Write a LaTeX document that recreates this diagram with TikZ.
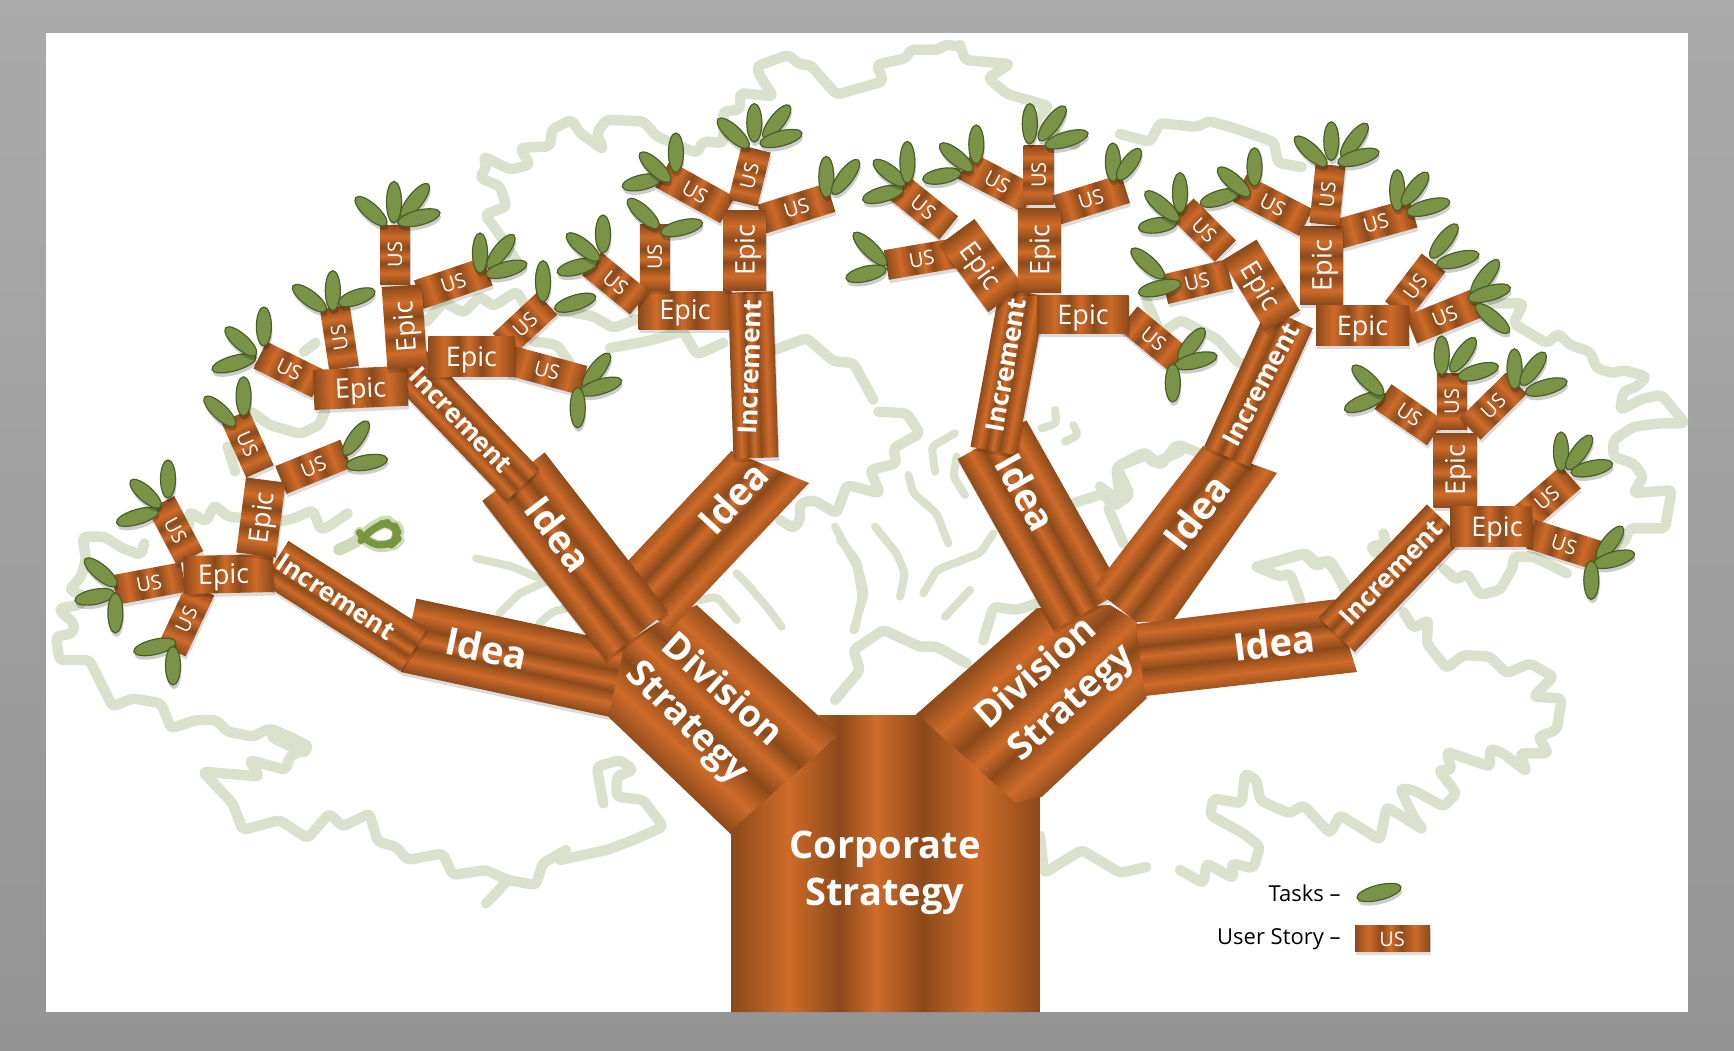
\documentclass[tikz,border=0pt]{standalone}
\usepackage{fontspec}
\setmainfont{Open Sans}
\definecolor{barkd}{HTML}{8B4A1B}
\definecolor{barkl}{HTML}{CF6B29}
\definecolor{outl}{HTML}{DAE2CD}
\definecolor{leaff}{HTML}{7A9347}
\definecolor{leafd}{HTML}{4A5F28}
\definecolor{knot}{HTML}{76963F}
\pgfdeclarehorizontalshading{barkwave}{100bp}{color(0bp)=(barkd);color(25bp)=(barkd);color(34.25bp)=(barkl);color(42.5bp)=(barkd);color(48.5bp)=(barkl);color(56bp)=(barkd);color(65bp)=(barkl);color(75bp)=(barkd);color(100bp)=(barkd)}
\newcount\nodeno
\newcommand\stick[6]{% x1 y1 x2 y2 width shading-angle
  \pgfmathsetmacro\ang{atan2(#2-#4,#3-#1)}%
  \pgfmathsetmacro\len{veclen(#3-#1,#4-#2)}%
  \pgfmathsetmacro\hw{#5/2}%
  \fill[black,opacity=.14,transform canvas={shift={(#1+1,#2+3.5)},rotate=\ang}] (0,-\hw) rectangle (\len,\hw);
  \path[transform canvas={shift={(#1,#2)},rotate=\ang},shading=barkwave,shading angle=#6] (0,-\hw) rectangle (\len,\hw);
}
\newcommand\cutbar[7]{% polygon, then start, end, width, angle
  \begin{scope}\clip #1;
  \pgfmathsetmacro\ang{atan2(#3-#5,#4-#2)}%
  \pgfmathsetmacro\len{veclen(#4-#2,#5-#3)}%
  \pgfmathsetmacro\hw{#6/2}%
  \path[transform canvas={shift={(#2,#3)},rotate=\ang},shading=barkwave,shading angle=#7] (0,-\hw) rectangle (\len,\hw);
  \end{scope}
}
\newcommand\lab[5]{\global\advance\nodeno by 1
  \node[#1,rotate=#4] (lab\the\nodeno) at (#2,#3) {#5};}
\newcommand\tagged[6]{% style text x1 y1 x2 y2 (label at midpoint of a stick)
  \pgfmathsetmacro\ang{atan2(#4-#6,#5-#3)}%
  \pgfmathsetmacro\tang{\ang>105?\ang-180:(\ang<-105?\ang+180:\ang)}%
  \pgfmathsetmacro\mx{(#3+#5)/2}\pgfmathsetmacro\my{(#4+#6)/2}%
  \lab{#1}{\mx}{\my}{\tang}{#2}}
\newcommand\us[4]{\stick{#1}{#2}{#3}{#4}{30}{0}\tagged{ustext}{US}{#1}{#2}{#3}{#4}}
\newcommand\epic[4]{\stick{#1}{#2}{#3}{#4}{40}{0}\tagged{epictext}{Epic}{#1}{#2}{#3}{#4}}
\newcommand\leaf[4]{%
  \pgfmathsetmacro\ang{atan2(#2-#4,#3-#1)}%
  \pgfmathsetmacro\lr{veclen(#3-#1,#4-#2)/2}%
  \pgfmathsetmacro\mx{(#1+#3)/2}\pgfmathsetmacro\my{(#2+#4)/2}%
  \fill[black,opacity=.2,shift={(\mx+1,\my+4)},rotate=\ang] (0,0) ellipse [x radius=\lr,y radius=7.5];
  \path[leafshape,shift={(\mx,\my)},rotate=\ang] (0,0) ellipse [x radius=\lr,y radius=7.5];
}
\tikzset{
  leafshape/.style={draw=leafd,fill=leaff,line width=.6pt},
  band/.style={draw=outl,line width=5.2pt,line join=round,line cap=round,rounded corners=2pt},
  thin band/.style={band,line width=4pt},
  ustext/.style={text=white,font=\fontsize{10}{12}\selectfont,inner sep=0pt},
  epictext/.style={text=white,font=\fontsize{13.5}{16}\selectfont,inner sep=0pt,text depth=0pt},
  incrtext/.style={text=white,font=\bfseries\fontsize{13}{15}\selectfont,inner sep=0pt},
  ideatext/.style={text=white,font=\bfseries\fontsize{19}{23}\selectfont,inner sep=0pt},
  divtext/.style={text=white,font=\bfseries\fontsize{18.5}{22}\selectfont,inner sep=0pt},
  corptext/.style={text=white,font=\bfseries\fontsize{19}{22}\selectfont,inner sep=0pt,text depth=0pt},
  legendtext/.style={text=black,font=\fontsize{11}{13}\selectfont,inner sep=0pt,anchor=east,text depth=0pt},
}
\begin{document}
\begin{tikzpicture}[x=0.5pt,y=-0.5pt]
\useasboundingbox (0,0) rectangle (1734,1050);
\path[top color=black!33,bottom color=black!42] (0,0) rectangle (1734,1050);
\fill[white] (46,33) rectangle (1688,1012);
% ---------- background tree outline
\begin{scope}[shift={(46,480)},x=0.16667pt,y=-0.16667pt]
\draw[band] (905,100)--(855,135)--(825,150)--(800,90)--(745,115)--(700,125)--(600,115)--(545,110)--(505,75)--(480,125)--(430,95)--(430,140)--(395,165);
\draw[band] (295,190)--(285,225)--(230,205)--(175,170)--(110,170)--(120,240)--(105,290)--(70,330)--(120,350)--(100,375)--(40,385)--(50,400)--(85,430)--(80,460)--(30,470)--(40,540)--(130,540)--(200,680)--(260,655)--(345,670)--(375,745)--(450,720)--(510,720)--(545,755)--(620,770)--(670,745)--(730,770)--(790,800)--(730,830)--(720,870)--(610,840)--(640,890)--(590,885)--(470,875)--(560,970)--(590,1050)--(700,1020)--(785,1075)--(850,1000)--(890,1040)--(970,1000)--(995,1085)--(1050,1100)--(1085,1140)--(1190,1120)--(1220,1185)--(1320,1170)--(1385,1200)--(1470,1215)--(1490,1150)--(1560,1110);
\draw[band,line width=9pt] (690,765)--(770,805);
\draw[band] (1385,1200)--(1350,1240)--(1320,1270);
\draw[thin band] (1290,235)--(1400,260)--(1490,300);
\draw[thin band] (1360,400)--(1420,340)--(1500,305);
\draw[thin band] (1480,430)--(1520,395)--(1560,385);
% green curl
\draw[knot,opacity=.35,line width=6pt,line join=round,line cap=round,rounded corners=6pt] (880,208)--(935,185)--(990,130)--(1040,122)--(1068,170)--(1030,205)--(960,190)--(945,165);
\draw[knot,line width=3.6pt,line join=round,line cap=round,rounded corners=6pt] (945,182)--(990,135)--(1040,125)--(1062,170)--(1030,200)--(960,188)--(945,165);
\end{scope}
\begin{scope}[shift={(560,540)},x=0.16667pt,y=-0.16667pt]
\draw[band] (0,960)--(140,930)--(220,900)--(310,860)--(250,780)--(170,770)--(170,710)--(220,690)--(180,660)--(110,680)--(130,790);
\draw[thin band] (530,100)--(560,130)--(620,200)--(665,260);
\draw[thin band] (840,0)--(890,60)--(915,160)--(880,270);
\draw[thin band] (420,180)--(470,170)--(530,240);
\end{scope}
\begin{scope}[shift={(440,33)},x=0.16667pt,y=-0.16667pt]
\draw[band] (240,700)--(175,600)--(135,545)--(200,520)--(180,460)--(120,435)--(140,400)--(130,370)--(210,410)--(270,395)--(240,345)--(330,340)--(335,290)--(395,260)--(420,300)--(490,350)--(470,300)--(500,260)--(610,265)--(650,310)--(720,340)--(770,360)--(790,325)--(850,330)--(850,235)--(900,230)--(900,180)--(1000,190)--(960,130)--(950,100)--(1045,65)--(1080,95)--(1110,95)--(1190,185)--(1330,145)--(1310,95)--(1400,75)--(1410,50)--(1500,50)--(1510,35)--(1560,40);
\draw[band] (0,800)--(70,840)--(120,790)--(160,820)--(230,775)--(270,840)--(380,835)--(460,850)--(520,885)--(600,855);
\draw[band] (280,925)--(350,935)--(390,990);
\draw[band] (510,945)--(620,925)--(730,895)--(770,965)--(850,930);
\draw[band] (1005,950)--(1100,915)--(1180,985)--(1240,990)--(1300,1100);
\end{scope}
\begin{scope}[shift={(40,150)},x=0.19135pt,y=-0.17857pt]
\draw[band] (555,735)--(600,770)--(680,795)--(730,770)--(745,730);
\draw[band] (720,540)--(690,565);
\draw[band] (490,830)--(510,900);
\draw[band] (1060,420)--(1010,480);
\end{scope}
\begin{scope}[shift={(0,0)}]
\draw[band] (960,45)--(965,60)--(1010,64)--(988,78)--(1007,94)--(1049,106)--(1034,122)--(1075,145);
\draw[band] (1120,134)--(1150,142)--(1160,123)--(1197,127)--(1209,121)--(1237,129)--(1274,142)--(1278,163)--(1302,167);
\draw[band] (1146,867)--(1120,873)--(1082,850)--(1044,873)--(1040,836);
\end{scope}
\begin{scope}[shift={(780,380)},x=0.16667pt,y=-0.16667pt]
\draw[band] (295,95)--(380,100)--(420,160)--(340,205)--(350,250)--(270,270)--(300,340)--(200,315)--(170,400)--(100,360)--(60,370)--(60,420)--(40,445)--(0,420);
\draw[thin band] (165,440)--(230,560)--(245,650)--(225,750);
\draw[thin band] (285,440)--(350,520)--(375,580)--(360,650);
\draw[thin band] (385,285)--(400,340)--(470,400)--(505,490);
\draw[thin band] (430,640)--(470,570)--(600,520)--(640,460);
\draw[thin band] (495,710)--(570,630);
\draw[thin band] (530,230)--(520,290)--(555,345);
\draw[thin band] (525,160)--(455,200)--(465,275);
\draw[thin band] (825,90)--(830,130)--(785,145);
\draw[thin band] (880,135)--(895,165)--(855,185);
\draw[band] (880,370)--(970,340)--(1000,380)--(1050,345)--(1010,260)--(1100,225)--(1120,250)--(1200,215);
\draw[band] (985,385)--(1030,490);
\draw[band] (165,960)--(240,870)--(220,810)--(310,750)--(420,800)--(470,800)--(560,850);
\draw[band] (610,780)--(640,680)--(710,690)--(770,670);
\end{scope}
\begin{scope}[shift={(1100,100)},x=0.20218pt,y=-0.19135pt]
\draw[band] (0,1010)--(50,1050)--(40,960)--(110,920)--(150,955)--(190,900)--(240,920);
\draw[band] (115,525)--(150,610)--(200,575)--(290,625)--(345,690)--(390,680);
\end{scope}
\begin{scope}[shift={(1200,280)},x=0.16667pt,y=-0.16667pt]
\draw[band] (880,70)--(970,70)--(940,130)--(1040,190)--(1075,160)--(1110,195)--(1170,215)--(1190,265)--(1240,280)--(1270,270)--(1340,290)--(1310,320)--(1270,335)--(1260,390)--(1330,355)--(1385,345)--(1455,430)--(1380,430)--(1300,440)--(1240,480)--(1240,530)--(1300,550)--(1330,590)--(1300,640)--(1415,630)--(1395,745)--(1290,745)--(1270,790)--(1190,810);
\draw[band] (175,860)--(310,820)--(350,860)--(380,840)--(410,880)--(450,960);
\draw[band] (550,760)--(560,790)--(510,800)--(540,830);
\end{scope}
\begin{scope}[shift={(1180,540)},x=0.16667pt,y=-0.16667pt]
\draw[band] (230,80)--(380,40)--(410,70)--(450,60)--(480,110)--(500,140);
\draw[band] (230,80)--(300,110)--(330,100)--(360,180);
\draw[band] (670,215)--(700,265)--(745,240)--(740,310)--(800,385)--(850,345)--(930,350)--(980,400)--(1050,370)--(1120,410)--(1060,470)--(1145,475)--(1130,570)--(1075,590)--(1105,640)--(1020,640)--(1040,695)--(970,640)--(930,625)--(930,680)--(800,635)--(815,690)--(775,690)--(830,760)--(790,800)--(700,750)--(660,745)--(700,830)--(730,870)--(620,800)--(600,900)--(480,825)--(450,880)--(370,795)--(330,820)--(280,800)--(240,780)--(230,720)--(195,700)--(185,790)--(100,775)--(90,825)--(190,880)--(240,920)--(220,985)--(155,970)--(160,1015)--(80,970)--(70,1030)--(0,990);
\draw[band] (790,85)--(830,120)--(860,100)--(900,165)--(960,150)--(1000,80)--(1000,50)--(1060,50)--(1160,100);
\end{scope}
% ---------- big limbs, left
\stick{408.5}{635.3}{640}{685}{75}{90}
\cutbar{(696.7,605)--(845,740)--(731.7,835)--(608.3,716.7)--(625,643)--(656.7,623)--cycle}{815}{810}{600}{612}{150}{90}
\cutbar{(731.4,451)--(809,483)--(670,630)--(610,580)--cycle}{795}{441}{620}{627}{92}{90}
\stick{513.5}{476.7}{636.6}{635.4}{79}{90}
% ---------- big limbs, right
\cutbar{(912,718)--(1036.7,608.3)--(1110,605)--(1136.7,621)--(1146.7,698.3)--(1042,796.7)--(1012,808)--cycle}{950}{785}{1170}{585}{150}{90}
\stick{992}{439.7}{1088}{610.7}{79}{90}
\cutbar{(1203,446)--(1277,473)--(1172,622)--(1136.7,622)--(1093.3,588.3)--cycle}{1258}{436}{1090}{653}{92}{90}
\cutbar{(1334.5,599.4)--(1357,672)--(1145,696)--(1136,624)--cycle}{1370}{633}{1120}{662}{84}{90}
% ---------- trunk
\cutbar{(818,715)--(918,715)--(1015.4,802.7)--(1039.7,796.7)--(1039.7,1012)--(731.6,1012)--(731.6,830)--(836.9,736.7)--cycle}{731.6}{863.5}{1039.7}{863.5}{297}{0}
% ---------- increments
\stick{275}{562}{413.5}{650}{50}{90}
\stick{408}{365}{523}{485}{46}{90}
\stick{638.7}{310}{731.4}{310}{38}{0}\tagged{epictext}{Epic}{638.7}{310}{731.4}{310}
\stick{750.5}{292}{756}{458}{45}{90}
\stick{1023}{292}{993.5}{451}{47}{90}
\stick{1290}{318}{1227}{456.7}{50}{90}
\stick{1445}{521.7}{1336.6}{634.6}{50}{90}
% ---------- cluster 1
\us{183.5}{577}{114.6}{590}
\us{200.7}{589}{172}{650}
\us{190}{558}{161}{503}
\us{260}{471.4}{235}{416}
\us{281}{480}{346}{453.6}
\stick{183.5}{575}{273.4}{573}{38}{0}\lab{epictext}{223.5}{574}{1}{Epic}
\epic{256}{555}{265.8}{480}
% ---------- cluster 2
\us{344}{368}{334.7}{307}
\us{318.6}{384}{260}{355}
\us{395}{284}{395}{225}
\us{418.9}{294.6}{487.8}{271.4}
\us{503}{344.6}{547}{303.6}
\us{510.7}{360.7}{583.4}{380.4}
\epic{313.6}{390}{407.4}{385.7}
\epic{407.4}{368}{401.6}{285.7}
\epic{428.4}{356.4}{514.5}{356.4}
% ---------- cluster 3
\us{654.8}{290.4}{654.8}{224}
\us{639.5}{302.9}{591.7}{263.6}
\us{727.5}{210}{662.5}{174}
\us{762}{219}{830.9}{197.5}
\stick{744.7}{290.4}{744.7}{210}{43}{0}\tagged{epictext}{Epic}{744.7}{290.4}{744.7}{210}
\us{742.8}{202.9}{756.2}{149}
% ---------- cluster 4
\us{957}{252.9}{886.3}{265}
\us{948.7}{227.9}{897.8}{186.8}
\us{1029.8}{199.3}{964.8}{165.4}
\us{1038.7}{204.6}{1038.7}{145.7}
\us{1056.6}{210}{1125.5}{188.6}
\us{1128}{318}{1179}{360}
\stick{1006}{299}{956.7}{232}{44}{0}\tagged{epictext}{Epic}{1006}{299}{956.7}{232}
\stick{1039.4}{292}{1039.4}{208}{43}{0}\tagged{epictext}{Epic}{1039.4}{292}{1039.4}{208}
\stick{1037.5}{314.5}{1128.6}{314.5}{38}{0}\tagged{epictext}{Epic}{1037.5}{314.5}{1128.6}{314.5}
% ---------- cluster 5
\us{1229.4}{274}{1164.7}{289.4}
\us{1225.4}{251}{1183}{209}
\us{1306}{222.5}{1239.5}{188}
\us{1338.6}{234}{1413.4}{213}
\us{1397}{310.5}{1433.6}{262.6}
\us{1411.4}{329.6}{1478}{302.8}
\epic{1282.8}{321}{1239.5}{250}
\stick{1321.6}{304.7}{1321.6}{226.3}{43}{0}\tagged{epictext}{Epic}{1321.6}{304.7}{1321.6}{226.3}
\us{1324.4}{224.4}{1330.5}{165}
\epic{1316}{325.8}{1409}{325.8}
% ---------- cluster 6
\us{1435.6}{433}{1383}{396.6}
\us{1451.8}{429}{1451.8}{373.6}
\us{1470}{429}{1516.5}{383.2}
\us{1522.6}{519}{1571}{477}
\us{1530.7}{534}{1597.4}{555.4}
\stick{1455}{507.6}{1455}{433}{43}{0}\tagged{epictext}{Epic}{1455}{507.6}{1455}{433}
\stick{1450.6}{526.7}{1532}{526.7}{40}{0}\lab{epictext}{1497}{527}{0}{Epic}
% ---------- leaves
\leaf{116.5}{585.7}{85}{559}\leaf{114.6}{593}{75}{600.7}\leaf{115.4}{593}{115.4}{633}
\leaf{175.9}{642}{133.8}{651.8}\leaf{173}{646.4}{173}{685}
\leaf{158.6}{510.7}{116.5}{523}\leaf{160.5}{507}{130.7}{480.4}\leaf{168}{498}{168}{460}
\leaf{235}{425.7}{204.6}{397}\leaf{243.6}{416}{243.6}{376.8}
\leaf{344}{455}{368}{421.4}\leaf{346}{466}{387.5}{459}
\leaf{386.3}{225}{355.7}{197.5}\leaf{394}{223}{394}{181.4}\leaf{401.6}{217.9}{428.4}{184}\leaf{397.8}{223}{440}{212.5}
\leaf{480}{273}{480}{233}\leaf{487.8}{268}{513.8}{235}\leaf{485.8}{275}{526.8}{263.6}
\leaf{543}{301.8}{543}{260.7}\leaf{554.7}{309}{595.7}{296.4}
\leaf{583.4}{387.5}{609.5}{353.6}\leaf{579.6}{392.9}{621.7}{380.4}\leaf{577.7}{387.5}{577.7}{427.9}
\leaf{326}{310.7}{293}{285.7}\leaf{332.8}{310.7}{332.8}{270.7}\leaf{338.5}{303.6}{374.9}{291}
\leaf{256}{357}{212}{369.6}\leaf{256}{355}{225.6}{327.9}\leaf{263.9}{346}{263.9}{307}
\leaf{658.6}{227.9}{628}{199.3}\leaf{660.6}{233}{702.6}{222.5}
\leaf{597.4}{261.8}{557.2}{272.5}\leaf{599.3}{260}{566.8}{234}\leaf{603}{252.9}{603}{215}
\leaf{661.7}{177.9}{622.3}{186.8}\leaf{670}{181.4}{640}{152.9}\leaf{675.9}{172.5}{675.9}{133}
\leaf{748.6}{147.5}{718}{119}\leaf{754.3}{142}{754.3}{103.6}\leaf{763.9}{138.6}{789.5}{105.4}\leaf{760}{144}{802}{133}
\leaf{826.3}{197.5}{826.3}{156.4}\leaf{832.8}{194}{858.4}{160}
\leaf{886.3}{265}{853.8}{233}\leaf{886.3}{269}{846}{278.6}
\leaf{903.6}{188.6}{862.6}{200}\leaf{905.5}{185}{873.7}{160.7}\leaf{907.4}{183}{907.4}{141.4}
\leaf{961}{172.5}{922.7}{179.6}\leaf{972.5}{170.7}{940}{144}\leaf{976.3}{163.6}{976.3}{125}
\leaf{1029.8}{144}{1029.8}{103.6}\leaf{1039.4}{140.4}{1065}{106.4}\leaf{1045}{145.7}{1088}{133}
\leaf{1112.9}{181.4}{1112.9}{143}\leaf{1117.9}{179.6}{1140}{149}
\leaf{1178.9}{360}{1204}{328.5}\leaf{1174.8}{366}{1217}{355.6}\leaf{1172.8}{364}{1172.8}{402}
\leaf{1163.9}{278}{1131.5}{249}\leaf{1180.9}{283}{1138.4}{293}
\leaf{1176.8}{222.5}{1138.4}{228}\leaf{1178.9}{220.5}{1145.3}{191.8}\leaf{1180}{212.9}{1180}{172.7}
\leaf{1239.5}{191.8}{1200.3}{204}\leaf{1249.6}{195.7}{1218}{168}\leaf{1254.5}{186}{1254.5}{147.8}
\leaf{1326.4}{165.8}{1295}{137}\leaf{1331.3}{160.5}{1331.3}{121.8}\leaf{1341.8}{157.4}{1367}{123.7}\leaf{1337.8}{163}{1379}{151.7}
\leaf{1397.2}{211}{1397.2}{169.7}\leaf{1402.5}{205}{1427.5}{172.7}\leaf{1406.5}{212.9}{1449.8}{201.4}
\leaf{1430.8}{257.7}{1457}{224.4}\leaf{1436.4}{265.3}{1478.9}{254}
\leaf{1472}{295}{1498.3}{260}\leaf{1468}{299}{1510.4}{287.5}\leaf{1476}{304.7}{1509}{332.3}
\leaf{1385}{394}{1344.6}{410}\leaf{1383}{394.7}{1352.7}{366}
\leaf{1441.7}{374.8}{1441.7}{336}\leaf{1451}{371.7}{1475}{338}\leaf{1457.9}{377.5}{1498.3}{366}
\leaf{1514.5}{389}{1514.5}{348.8}\leaf{1521.3}{385}{1544.8}{352.6}\leaf{1525.4}{392.8}{1567}{381.3}
\leaf{1561}{471}{1561}{432}\leaf{1567}{469.3}{1591.3}{435.6}\leaf{1571}{473}{1612.7}{463.6}
\leaf{1597.4}{559}{1622.4}{526.7}\leaf{1593.3}{565}{1634.6}{553.5}\leaf{1591.3}{561}{1591.3}{599.4}
% ---------- labels on limbs
\lab{corptext}{885}{845}{0}{Corporate}
\lab{corptext}{885}{892}{0}{Strategy}
\lab{divtext}{724}{688}{-42}{Division}
\lab{divtext}{685.6}{724}{-45}{Strategy}
\lab{divtext}{1034}{671}{42}{Division}
\lab{divtext}{1072.7}{704.4}{42}{Strategy}
\lab{ideatext}{486.6}{648}{-12}{Idea}
\lab{ideatext}{558.5}{534}{-53}{Idea}
\lab{ideatext}{733}{497.6}{47}{Idea}
\lab{ideatext}{1026}{492}{-61}{Idea}
\lab{ideatext}{1196.6}{512}{52}{Idea}
\lab{ideatext}{1274}{642.5}{7}{Idea}
\lab{incrtext}{336}{597}{-33}{Increment}
\lab{incrtext}{461}{420}{-46}{Increment}
\lab{incrtext}{750}{367}{88}{Increment}
\lab{incrtext}{1006}{365}{80}{Increment}
\lab{incrtext}{1260.7}{385}{62}{Increment}
\lab{incrtext}{1391}{573}{46}{Increment}
% ---------- legend
\lab{legendtext}{1341}{893}{0}{Tasks –}
\lab{legendtext}{1341}{937}{0}{User Story –}
\leaf{1357}{898}{1401}{887}
\stick{1355}{938}{1430}{938}{26}{0}
\lab{ustext}{1392}{939}{0}{US}
\end{tikzpicture}
\end{document}
